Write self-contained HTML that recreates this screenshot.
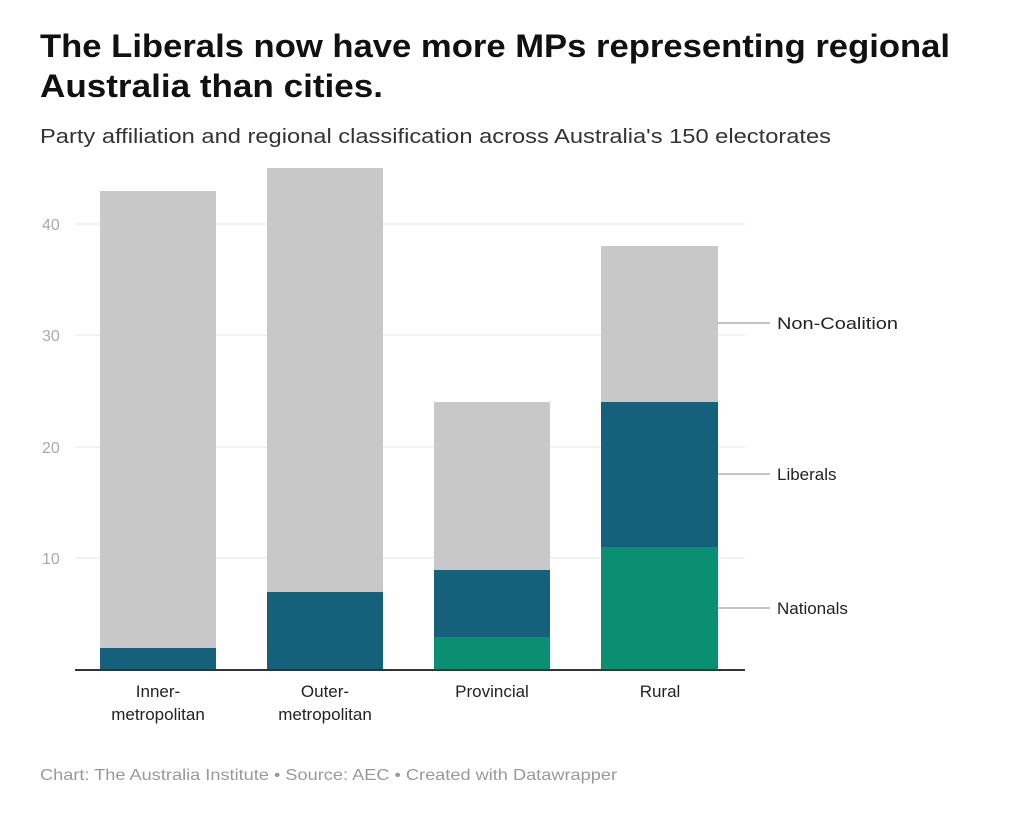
<!DOCTYPE html>
<html><head><meta charset="utf-8"><style>
body{margin:0;background:#fff;font-family:"Liberation Sans",sans-serif;}
</style></head><body>
<svg width="1024" height="810" xmlns="http://www.w3.org/2000/svg" font-family="Liberation Sans, sans-serif">
<rect width="1024" height="810" fill="#fff"/>
<text x="40" y="57" font-size="32" font-weight="bold" fill="#111" textLength="910" lengthAdjust="spacingAndGlyphs">The Liberals now have more MPs representing regional</text>
<text x="40" y="97" font-size="32" font-weight="bold" fill="#111" textLength="343" lengthAdjust="spacingAndGlyphs">Australia than cities.</text>
<text x="40" y="143" font-size="20" fill="#333" textLength="791" lengthAdjust="spacingAndGlyphs">Party affiliation and regional classification across Australia's 150 electorates</text>
<g stroke="#e6e6e6" stroke-width="1">
<line x1="75" y1="224" x2="745" y2="224"/>
<line x1="75" y1="335" x2="745" y2="335"/>
<line x1="75" y1="447" x2="745" y2="447"/>
<line x1="75" y1="558" x2="745" y2="558"/>
</g>
<g font-size="16" fill="#aaa">
<text x="42" y="230">40</text><text x="42" y="341">30</text><text x="42" y="453">20</text><text x="42" y="564">10</text>
</g>
<rect x="100" y="191" width="116" height="479" fill="#c8c8c8"/>
<rect x="100" y="648" width="116" height="22" fill="#15607a"/>
<rect x="267" y="168" width="116" height="502" fill="#c8c8c8"/>
<rect x="267" y="592" width="116" height="78" fill="#15607a"/>
<rect x="434" y="402" width="116" height="268" fill="#c8c8c8"/>
<rect x="434" y="570" width="116" height="67" fill="#15607a"/>
<rect x="434" y="637" width="116" height="33" fill="#0a8f72"/>
<rect x="601" y="246" width="117" height="424" fill="#c8c8c8"/>
<rect x="601" y="402" width="117" height="145" fill="#15607a"/>
<rect x="601" y="547" width="117" height="123" fill="#0a8f72"/>
<line x1="75" y1="670" x2="745" y2="670" stroke="#333" stroke-width="2"/>
<g stroke="#888" stroke-width="1">
<line x1="718" y1="323" x2="770" y2="323"/>
<line x1="718" y1="474" x2="770" y2="474"/>
<line x1="718" y1="608" x2="770" y2="608"/>
</g>
<g font-size="17" fill="#222">
<text x="777" y="329" textLength="121" lengthAdjust="spacingAndGlyphs">Non-Coalition</text>
<text x="777" y="480">Liberals</text>
<text x="777" y="614">Nationals</text>
</g>
<g font-size="17" fill="#222" text-anchor="middle">
<text x="158" y="697">Inner-</text><text x="158" y="720">metropolitan</text>
<text x="325" y="697">Outer-</text><text x="325" y="720">metropolitan</text>
<text x="492" y="697">Provincial</text>
<text x="660" y="697">Rural</text>
</g>
<text x="40" y="780" font-size="16" fill="#999" textLength="577" lengthAdjust="spacingAndGlyphs">Chart: The Australia Institute • Source: AEC • Created with Datawrapper</text>
</svg>
</body></html>
